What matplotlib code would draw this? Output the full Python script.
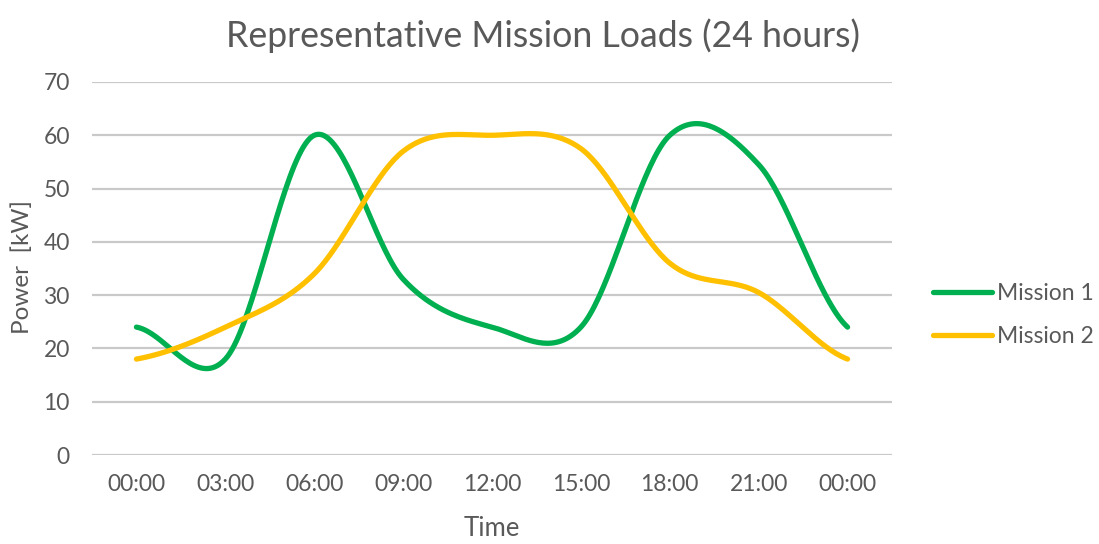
import numpy as np
import matplotlib
matplotlib.use("Agg")
import matplotlib.pyplot as plt

# === Data (3-hour steps) ===
time_labels = ["00:00", "03:00", "06:00", "09:00", "12:00", "15:00", "18:00", "21:00", "00:00"]
mission1 = [24, 18, 60, 33, 24, 24, 60, 54.5, 24]
mission2 = [18, 24, 34, 57, 60, 57.5, 36, 30.5, 18]

text_col = "#595959"
plt.rcParams["font.family"] = ["Lato", "DejaVu Sans"]


def smooth(y, n=40):
    # Catmull-Rom curve, like Excel's "smoothed line"
    y = np.asarray(y, dtype=float)
    pts = np.concatenate([[y[0]], y, [y[-1]]])
    xs, ys = [], []
    for i in range(len(y) - 1):
        p0, p1, p2, p3 = pts[i], pts[i + 1], pts[i + 2], pts[i + 3]
        m1 = (p2 - p0) / 2
        m2 = (p3 - p1) / 2
        t = np.linspace(0, 1, n, endpoint=(i == len(y) - 2))
        h00 = 2 * t**3 - 3 * t**2 + 1
        h10 = t**3 - 2 * t**2 + t
        h01 = -2 * t**3 + 3 * t**2
        h11 = t**3 - t**2
        xs.append(i + t)
        ys.append(h00 * p1 + h10 * m1 + h01 * p2 + h11 * m2)
    return np.concatenate(xs), np.concatenate(ys)


fig = plt.figure(figsize=(10.99, 5.44), dpi=100)
ax = fig.add_axes([92 / 1099, 1 - 455 / 544, 800 / 1099, 373 / 544])

x1, y1 = smooth(mission1)
x2, y2 = smooth(mission2)
ax.plot(x1, y1, color="#00B050", lw=3.8, solid_capstyle="round", label="Mission 1", zorder=3)
ax.plot(x2, y2, color="#FFC000", lw=3.8, solid_capstyle="round", label="Mission 2", zorder=3)

ax.set_xlim(-0.5, len(time_labels) - 0.5)
ax.set_ylim(0, 70)
ax.set_yticks(range(0, 71, 10))
ax.set_xticks(range(len(time_labels)))
ax.set_xticklabels(time_labels)
ax.tick_params(length=0, labelsize=16.5, colors=text_col)
ax.tick_params(axis="x", pad=14)
ax.tick_params(axis="y", pad=16)
for s in ax.spines.values():
    s.set_visible(False)
ax.yaxis.grid(True, color="#c9c9c9", lw=1.6)
ax.set_axisbelow(True)

ax.set_xlabel("Time", fontsize=18.5, color=text_col, va="center")
ax.xaxis.set_label_coords((492 - 92) / 800, (455 - 529) / 373)
ax.set_ylabel("Power  [kW]", fontsize=17.5, color=text_col, va="center")
ax.yaxis.set_label_coords((22 - 92) / 800, (455 - 267) / 373)

fig.text(543 / 1099, 1 - 47 / 544, "Representative Mission Loads (24 hours)", ha="center",
         va="baseline", fontsize=25.7, color=text_col)

leg = fig.legend(loc="center left", bbox_to_anchor=(933 / 1099, 1 - 315 / 544), frameon=False,
                 fontsize=16.5, handlelength=2.58, handletextpad=0.2, labelspacing=1.0,
                 borderpad=0, borderaxespad=0)
for t in leg.get_texts():
    t.set_color(text_col)

plt.savefig("out.png", dpi=100)
plt.close()
